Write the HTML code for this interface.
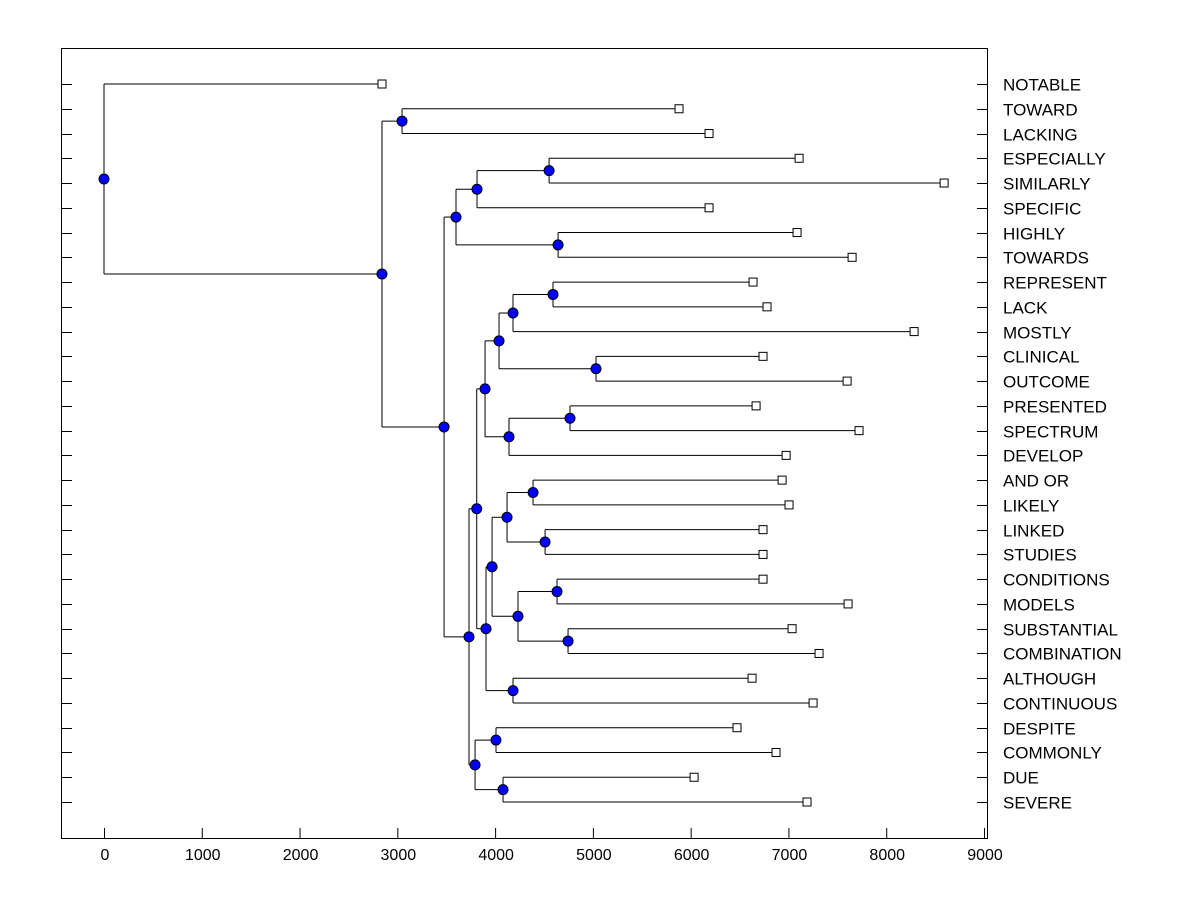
<!DOCTYPE html>
<html><head><meta charset="utf-8"><style>
body{margin:0;background:#fff;}
svg{display:block;font-family:"Liberation Sans",Arial,sans-serif;}
</style></head><body>
<svg id="chart" width="1200" height="900" viewBox="0 0 1200 900">
<rect x="0" y="0" width="1200" height="900" fill="#fff"/>
<rect x="61.5" y="48.5" width="926" height="790" fill="none" stroke="#000" stroke-width="1"/>
<g id="marks"></g>
</svg>
<script>
const leafNames = ["NOTABLE","TOWARD","LACKING","ESPECIALLY","SIMILARLY","SPECIFIC","HIGHLY","TOWARDS","REPRESENT","LACK","MOSTLY","CLINICAL","OUTCOME","PRESENTED","SPECTRUM","DEVELOP","AND OR","LIKELY","LINKED","STUDIES","CONDITIONS","MODELS","SUBSTANTIAL","COMBINATION","ALTHOUGH","CONTINUOUS","DESPITE","COMMONLY","DUE","SEVERE"];
const leafValues = [2843,5881,6188,7109,8592,6188,7088,7651,6638,6781,8285,6740,7600,6669,7722,6976,6935,7006,6740,6740,6740,7610,7037,7313,6628,7252,6474,6873,6035,7190];
// internal nodes: [name, height, childA, childB]; children are leaf indices (numbers) or node names
const mergeNodes = [
 ["B",3048,1,2],["H",4552,3,4],["F",3815,"H",5],["G",4644,6,7],["D",3600,"F","G"],
 ["Q",4592,8,9],["O",4183,"Q",10],["P",5032,11,12],["M",4040,"O","P"],
 ["R",4766,13,14],["N",4142,"R",15],["I",3897,"M","N"],
 ["W",4388,16,17],["X",4511,18,19],["U",4122,"W","X"],
 ["Y",4633,20,21],["Z",4746,22,23],["V",4234,"Y","Z"],["S",3969,"U","V"],
 ["T",4183,24,25],["L",3907,"S","T"],["K",3812,"I","L"],
 ["AA",4009,26,27],["BB",4081,28,29],["J",3795,"AA","BB"],["E",3733,"K","J"],
 ["C",3478,"D","E"],["A",2843,"B","C"],["ROOT",0,0,"A"]
];
const xTicks = [0,1000,2000,3000,4000,5000,6000,7000,8000,9000];

const X = v => 104 + v * (880/9000);
const Y = i => 84 + i * (718/29);
const NS = "http://www.w3.org/2000/svg";
const g = document.getElementById("marks");
function mk(tag, attrs){const e=document.createElementNS(NS,tag);for(const k in attrs)e.setAttribute(k,attrs[k]);g.appendChild(e);return e;}

xTicks.forEach(t=>{
  const l=mk("line",{x1:X(t)+0.5,x2:X(t)+0.5,y1:838,y2:828,stroke:"#000"});
  
  
  const tx=mk("text",{x:X(t)+1,y:860,"text-anchor":"middle","font-size":"16"});
  tx.textContent=t;
  
  
});
leafNames.forEach((n,i)=>{
  const y=Math.round(Y(i))+0.5;
  const l1=mk("line",{x1:61,x2:72,y1:y,y2:y,stroke:"#000"});
  
  
  const l2=mk("line",{x1:977,x2:987,y1:y,y2:y,stroke:"#000"});
  
  
  const t=mk("text",{x:1003,y:y+6,"font-size":"17"});
  t.textContent=n;
  
  
});

const pos = {};
function childPos(c){ if(typeof c==="number") return {x:X(leafValues[c]),y:Y(c)}; return pos[c]; }
mergeNodes.forEach(([name,h,a,b])=>{
  const pa=childPos(a), pb=childPos(b);
  const x=X(h), y=(pa.y+pb.y)/2;
  pos[name]={x,y};
  const v=mk("line",{x1:x,x2:x,y1:pa.y,y2:pb.y,stroke:"#000"});
  
  
  [pa,pb].forEach(p=>{
    const h2=mk("line",{x1:x,x2:p.x,y1:p.y,y2:p.y,stroke:"#000"});
    
    
  });
});
leafValues.forEach((v,i)=>{
  const r=mk("rect",{x:X(v)-4,y:Y(i)-4,width:8,height:8,fill:"#fff",stroke:"#000"});
  
  
});
mergeNodes.forEach(([name])=>{
  const p=pos[name];
  const c=mk("circle",{cx:p.x,cy:p.y,r:5,fill:"#0000ff",stroke:"#000"});
  
  
});
</script>
</body></html>
